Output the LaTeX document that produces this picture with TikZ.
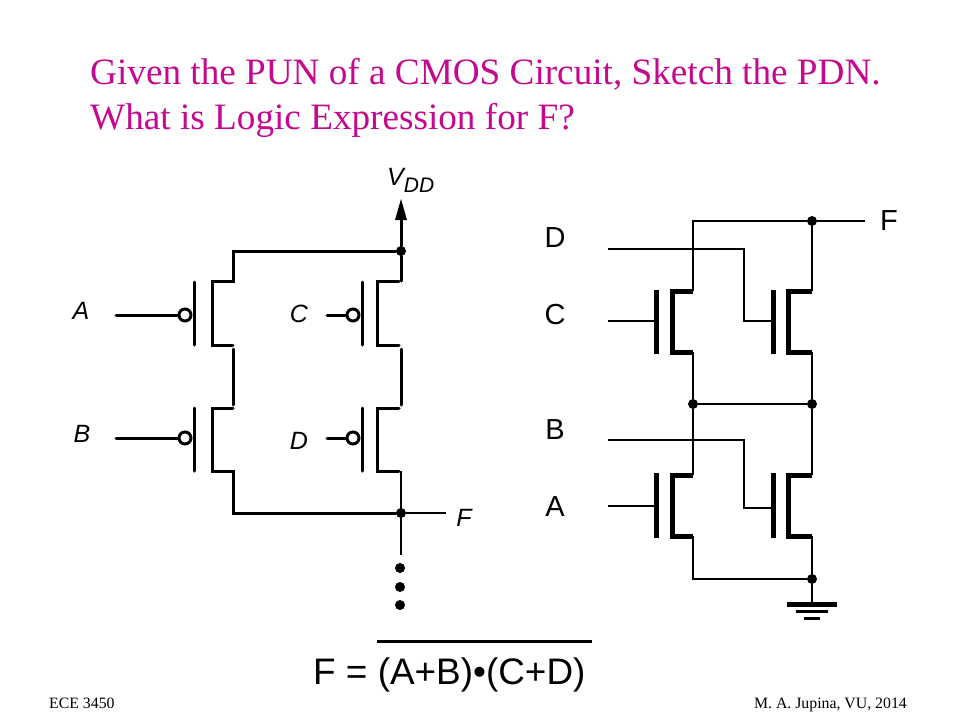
\documentclass[tikz,border=0pt]{standalone}
\usepackage{fontspec}
\setmainfont{Liberation Serif}
\setsansfont{Liberation Sans}
\usepackage{xcolor}
\definecolor{TitlePink}{HTML}{C4088F}
\usetikzlibrary{arrows}
\tikzset{
	wire/.style={line width=3pt, line cap=round, line join=miter},
	rwire/.style={line width=2.5pt, line join=miter},
	thinwire/.style={line width=1.2pt},
	heavy/.style={line width=5pt, line join=miter},
	dotnode/.style={circle, fill=black, inner sep=0pt, minimum size=10pt},
	bubble/.style={circle, draw, line width=3pt, fill=white, inner sep=0pt, minimum size=12pt},
	title/.style={anchor=base west, inner sep=0pt, text=TitlePink, font=\fontsize{37.2}{37.2}\selectfont},
	label/.style={inner sep=0pt, font=\sffamily\itshape\fontsize{25}{25}\selectfont},
	rlabel/.style={inner sep=0pt, font=\sffamily\fontsize{29}{29}\selectfont},
	foot/.style={inner sep=0pt, font=\fontsize{15.8}{15.8}\selectfont}
}
\begin{document}
\begin{tikzpicture}[x=1pt, y=-1pt]
\useasboundingbox (0,0) rectangle (960,720);
% title
\node[title] (line1) at (90,84) {Given the PUN of a CMOS Circuit, Sketch the PDN.};
\node[title] (line2) at (90,129) {What is Logic Expression for F?};
% pull-up labels
\node[label, anchor=base west] (vdd) at (387,185) {V\raisebox{-7pt}{\fontsize{21}{21}\selectfont DD}};
\node[label] (lA) at (81,311) {A};
\node[label] (lB) at (82,434) {B};
\node[label] (lC) at (299,314) {C};
\node[label] (lD) at (299,441) {D};
\node[label] (lF) at (464,518) {F};
% pull-up rail
\node[dotnode] (top) at (401,251) {};
\node[dotnode] (out) at (401,513) {};
\fill (401,199) -- (407,220) -- (395,220) -- cycle;
\draw[wire] (401,220) -- (top);
\draw[wire] (top) -- (401,281);
\draw[wire] (top) -- (233,251) -- (233,281) -- (212,281) -- (212,345) -- (233,345);
\draw[wire] (233,349) -- (233,405);
\draw[wire] (233,408) -- (212,408) -- (212,471) -- (233,471) -- (233,513) -- (out);
\draw[wire] (399,281) -- (377,281) -- (377,345) -- (399,345);
\draw[wire] (401,349) -- (401,405);
\draw[wire] (399,408) -- (377,408) -- (377,471) -- (399,471);
% gates
\draw[wire] (194,282) -- (194,345);
\draw[wire] (194,408) -- (194,471);
\draw[wire] (362,282) -- (362,345);
\draw[wire] (362,408) -- (362,471);
\node[bubble] (bA) at (185,315) {};
\node[bubble] (bB) at (185,438) {};
\node[bubble] (bC) at (353,315) {};
\node[bubble] (bD) at (353,438) {};
\coordinate (inA) at (116,315);
\coordinate (inB) at (116,438);
\coordinate (inC) at (327,315);
\coordinate (inD) at (327,438);
\draw[wire] (inA) -- (bA);
\draw[wire] (inB) -- (bB);
\draw[wire] (inC) -- (bC);
\draw[wire] (inD) -- (bD);
% output and the dots
\coordinate (outF) at (446,513);
\draw[thinwire] (401,471) -- (401,555);
\draw[thinwire] (out) -- (outF);
\node[dotnode] (d1) at (400,568) {};
\node[dotnode] (d2) at (400,587) {};
\node[dotnode] (d3) at (400,605) {};
% pull-down labels
\node[rlabel] (rD) at (555,238) {D};
\node[rlabel] (rC) at (555,315) {C};
\node[rlabel] (rB) at (555,430) {B};
\node[rlabel] (rA) at (555,507) {A};
\node[rlabel] (rF) at (889,221) {F};
% pull-down wires
\node[dotnode] (fdot) at (812,221) {};
\node[dotnode] (mid1) at (693,404) {};
\node[dotnode] (mid2) at (812,404) {};
\node[dotnode] (gnd) at (812,579) {};
\coordinate (endF) at (865,221);
\draw[rwire] (693,291) -- (693,221) -- (fdot);
\draw[thinwire] (fdot) -- (endF);
\draw[rwire] (fdot) -- (812,291);
\draw[rwire] (693,352) -- (mid1) -- (mid2) -- (812,352);
\draw[rwire] (mid1) -- (693,475);
\draw[rwire] (mid2) -- (812,475);
\draw[rwire] (693,536) -- (693,579) -- (gnd) -- (812,536);
% D, C, B, A inputs
\draw[rwire] (608,249) -- (744,249) -- (744,321) -- (773,321);
\draw[rwire] (608,321) -- (656,321);
\draw[rwire] (608,440) -- (744,440) -- (744,508) -- (773,508);
\draw[thinwire] (608,506) -- (656,506);
% nmos gates
\draw[heavy] (656,290) -- (656,354);
\draw[heavy] (773,290) -- (773,354);
\draw[heavy] (656,473) -- (656,538);
\draw[heavy] (773,473) -- (773,538);
% nmos channels
\draw[heavy] (693,291) -- (672,291) -- (672,352) -- (693,352);
\draw[heavy] (812,291) -- (788,291) -- (788,352) -- (812,352);
\draw[heavy] (693,475) -- (672,475) -- (672,536) -- (693,536);
\draw[heavy] (812,475) -- (788,475) -- (788,536) -- (812,536);
% ground
\draw[rwire] (gnd) -- (812,604);
\draw[heavy] (787,604) -- (837,604);
\draw[line width=3pt] (796,611) -- (828,611);
\draw[line width=3pt] (804,618) -- (820,618);
% expression
\node[anchor=base west, inner sep=0pt, font=\sffamily\fontsize{36.9}{36.9}\selectfont] (expr) at (313,684) {F = (A+B)•(C+D)};
\draw[line width=3pt] (377,641) -- (592,641);
% footer
\node[foot, anchor=base west] (fl) at (49,708) {ECE 3450};
\node[foot, anchor=base east] (fr) at (907,708) {M. A. Jupina, VU, 2014};
\end{tikzpicture}
\end{document}
